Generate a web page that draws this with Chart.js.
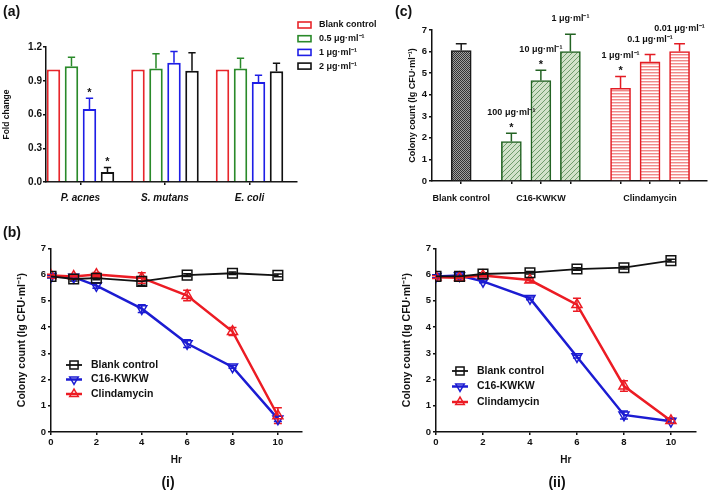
<!DOCTYPE html>
<html>
<head>
<meta charset="utf-8">
<script src="https://cdn.jsdelivr.net/npm/chart.js@4.4.1/dist/chart.umd.min.js"></script>
<style>
  body { margin: 0; background: #fff; width: 709px; height: 492px; position: relative; overflow: hidden; }
  canvas { position: absolute; }
</style>
</head>
<body>
<canvas id="foldChart" width="390" height="245" style="left:0;top:0"></canvas>
<canvas id="colonyChart" width="319" height="245" style="left:390px;top:0"></canvas>
<canvas id="killChart1" width="355" height="252" style="left:0;top:240px"></canvas>
<canvas id="killChart2" width="324" height="252" style="left:385px;top:240px"></canvas>
<script>
const FONT = '"Liberation Sans", Arial, sans-serif';
Chart.defaults.font.family = FONT;
Chart.defaults.font.weight = 'bold';
Chart.defaults.color = '#111';

// (a) fold change
const bacteria = ['P. acnes', 'S. mutans', 'E. coli'];
const doses = ['Blank control', '0.5 μg·ml⁻¹', '1 μg·ml⁻¹', '2 μg·ml⁻¹'];
const foldBlank = [1.0, 1.0, 1.0];
const fold05 = [1.03, 1.01, 1.01];
const fold05Err = [0.08, 0.13, 0.09];
const fold1 = [0.65, 1.06, 0.89];
const fold1Err = [0.095, 0.10, 0.06];
const fold2 = [0.09, 0.99, 0.985];
const fold2Err = [0.04, 0.16, 0.07];
const fold1Star = [true, false, false];
const fold2Star = [true, false, false];
const foldTicks = [0, 0.3, 0.6, 0.9, 1.2];

// (c) colony count
const colonyGroups = ['Blank control', 'C16-KWKW', 'Clindamycin'];
const colonyGroupOf = [0, 1, 1, 1, 2, 2, 2];
const colonyNotes = ['', '100 μg·ml⁻¹', '10 μg·ml⁻¹', '1 μg·ml⁻¹', '1 μg·ml⁻¹', '0.1 μg·ml⁻¹', '0.01 μg·ml⁻¹'];
const colonyValues = [6.05, 1.83, 4.66, 6.0, 4.3, 5.53, 6.0];
const colonyErrors = [0.31, 0.38, 0.47, 0.8, 0.55, 0.33, 0.36];
const colonyStars = [false, true, true, false, true, false, false];
const colonyTicks = [0, 1, 2, 3, 4, 5, 6, 7];

// (b) time-kill curves
const hours = [0, 1, 2, 4, 6, 8, 10];
const hourTicks = [0, 2, 4, 6, 8, 10];
const series = ['Blank control', 'C16-KWKW', 'Clindamycin'];
const blank1 = [5.93, 5.83, 5.86, 5.74, 5.98, 6.05, 5.97];
const blank1Err = [0.05, 0.08, 0.06, 0.15, 0.05, 0.05, 0.05];
const c16_1 = [5.93, 5.9, 5.58, 4.7, 3.37, 2.48, 0.5];
const c16_1Err = [0.05, 0.05, 0.1, 0.15, 0.15, 0.05, 0.1];
const clin1 = [5.96, 5.93, 6.0, 5.87, 5.2, 3.83, 0.62];
const clin1Err = [0.05, 0.05, 0.08, 0.2, 0.2, 0.15, 0.3];
const blank2 = [5.93, 5.93, 6.02, 6.07, 6.21, 6.26, 6.53];
const blank2Err = [0.05, 0.05, 0.05, 0.05, 0.05, 0.05, 0.05];
const c16_2 = [5.93, 5.96, 5.74, 5.09, 2.87, 0.65, 0.41];
const c16_2Err = [0.05, 0.05, 0.05, 0.05, 0.05, 0.15, 0.08];
const clin2 = [5.9, 5.88, 5.96, 5.79, 4.85, 1.75, 0.43];
const clin2Err = [0.05, 0.05, 0.05, 0.08, 0.25, 0.2, 0.1];

// ---- plugins ----
const errorBars = {
  id: 'errorBars',
  beforeDatasetsDraw(chart) {
    const ctx = chart.ctx, y = chart.scales.y;
    chart.data.datasets.forEach((ds, i) => {
      if (!ds.errors) return;
      const meta = chart.getDatasetMeta(i);
      ctx.save();
      ctx.lineWidth = 1.5;
      meta.data.forEach((el, j) => {
        const err = ds.errors[j];
        if (!err) return;
        const v = ds.data[j].y;
        const col = Array.isArray(ds.borderColor) ? ds.borderColor[j] : ds.borderColor;
        const cap = ds.errorBoth ? 4 : el.width * 0.27;
        const top = y.getPixelForValue(v + err);
        const bot = ds.errorBoth ? y.getPixelForValue(v - err) : el.y;
        ctx.strokeStyle = col;
        ctx.beginPath();
        ctx.moveTo(el.x, bot); ctx.lineTo(el.x, top);
        ctx.moveTo(el.x - cap, top); ctx.lineTo(el.x + cap, top);
        if (ds.errorBoth) { ctx.moveTo(el.x - cap, bot); ctx.lineTo(el.x + cap, bot); }
        ctx.stroke();
      });
      ctx.restore();
    });
  }
};

const barMarks = {
  id: 'barMarks',
  afterDatasetsDraw(chart) {
    const ctx = chart.ctx, y = chart.scales.y;
    chart.data.datasets.forEach((ds, i) => {
      const meta = chart.getDatasetMeta(i);
      meta.data.forEach((el, j) => {
        const top = y.getPixelForValue(ds.data[j].y + (ds.errors ? ds.errors[j] : 0));
        const star = ds.stars && ds.stars[j];
        ctx.save();
        ctx.fillStyle = '#111';
        ctx.textAlign = 'center';
        ctx.textBaseline = 'alphabetic';
        if (star) {
          ctx.font = `bold 11px ${FONT}`;
          ctx.fillText('*', el.x, top - 2.5);
        }
        if (ds.notes && ds.notes[j]) {
          ctx.font = `bold 9px ${FONT}`;
          ctx.fillText(ds.notes[j], el.x, top - (star ? 18 : 13));
        }
        ctx.restore();
      });
    });
  }
};

const panelText = {
  id: 'panelText',
  afterDraw(chart, args, opts) {
    const ctx = chart.ctx;
    (opts.items || []).forEach(t => {
      ctx.save();
      ctx.font = `bold 14px ${FONT}`;
      ctx.fillStyle = '#111';
      ctx.textAlign = t.align || 'left';
      ctx.textBaseline = 'middle';
      ctx.fillText(t.text, t.x, t.y);
      ctx.restore();
    });
  }
};

const boxLegend = {
  id: 'boxLegend',
  afterDraw(chart, args, opts) {
    const ctx = chart.ctx;
    chart.data.datasets.forEach((ds, i) => {
      const y = opts.y + i * opts.dy;
      ctx.save();
      ctx.strokeStyle = ds.borderColor;
      ctx.lineWidth = 1.6;
      ctx.strokeRect(opts.x, y - 3, 13, 6);
      ctx.fillStyle = '#111';
      ctx.font = `bold 9px ${FONT}`;
      ctx.textBaseline = 'middle';
      ctx.fillText(ds.label, opts.x + 21, y);
      ctx.restore();
    });
  }
};

function drawMarker(ctx, style, rot, x, y, r) {
  ctx.beginPath();
  if (style === 'rect') {
    const s = r * Math.SQRT1_2;
    ctx.rect(x - s, y - s, 2 * s, 2 * s);
  } else {
    const d = rot ? -1 : 1;
    ctx.moveTo(x, y - d * r);
    ctx.lineTo(x - r * 0.866, y + d * r * 0.5);
    ctx.lineTo(x + r * 0.866, y + d * r * 0.5);
    ctx.closePath();
  }
  ctx.stroke();
}

const lineLegend = {
  id: 'lineLegend',
  afterDraw(chart, args, opts) {
    const ctx = chart.ctx;
    chart.data.datasets.forEach((ds, i) => {
      const y = opts.y + i * opts.dy, mx = opts.x - 17;
      ctx.save();
      ctx.strokeStyle = ds.borderColor;
      ctx.lineWidth = ds.borderWidth;
      ctx.beginPath(); ctx.moveTo(mx - 8, y); ctx.lineTo(mx + 8, y); ctx.stroke();
      ctx.lineWidth = 1.5;
      drawMarker(ctx, ds.pointStyle, ds.pointRotation, mx, y, ds.pointRadius * 0.85);
      ctx.fillStyle = '#111';
      ctx.font = `bold 10.5px ${FONT}`;
      ctx.textBaseline = 'middle';
      ctx.fillText(ds.label, opts.x, y);
      ctx.restore();
    });
  }
};

function pinArea(chart, top, right) {
  const pad = chart.config.options.layout.padding;
  for (let k = 0; k < 2; k++) {
    pad.top += top - chart.chartArea.top;
    pad.right += chart.chartArea.right - right;
    chart.update('none');
  }
}

function makePattern(w, h, draw) {
  const c = document.createElement('canvas');
  c.width = w; c.height = h;
  const g = c.getContext('2d');
  draw(g, w, h);
  return g.createPattern(c, 'repeat');
}

const axisStyle = {
  grid: { drawOnChartArea: false, color: '#111', tickLength: 3, lineWidth: 1.5, offset: false },
  border: { color: '#111', width: 1.5 }
};

// ---- (a) ----
function foldSet(label, values, errs, stars, color) {
  return {
    label,
    data: values.map((v, i) => ({ x: i + 1, y: v })),
    errors: errs,
    stars,
    borderColor: color,
    backgroundColor: '#fff',
    borderWidth: 2,
    categoryPercentage: 0.852,
    barPercentage: 0.75
  };
}

const foldChart = new Chart(document.getElementById('foldChart'), {
  type: 'bar',
  data: {
    datasets: [
      foldSet(doses[0], foldBlank, null, null, '#e8262b'),
      foldSet(doses[1], fold05, fold05Err, null, '#2a8a2a'),
      foldSet(doses[2], fold1, fold1Err, fold1Star, '#1e1ee6'),
      foldSet(doses[3], fold2, fold2Err, fold2Star, '#111')
    ]
  },
  options: {
    responsive: false, devicePixelRatio: 1, animation: false,
    layout: { padding: { top: 0, right: 0, left: 0, bottom: 0 } },
    plugins: {
      legend: { display: false }, tooltip: { enabled: false },
      boxLegend: { x: 298, y: 25, dy: 13.7 },
      panelText: { items: [{ text: '(a)', x: 3, y: 12 }, { text: '(b)', x: 3, y: 233 }] }
    },
    scales: {
      x: {
        type: 'linear', min: 0.592, max: 3.562, offset: false,
        afterBuildTicks: s => { s.ticks = bacteria.map((b, i) => ({ value: i + 1 })); },
        afterFit: s => { s.height = 245 - 182; },
        ticks: { callback: (v, i) => bacteria[i], font: { size: 10, style: 'italic' }, padding: 7, maxRotation: 0, autoSkip: false },
        ...axisStyle
      },
      y: {
        min: 0, max: 1.2,
        afterBuildTicks: s => { s.ticks = foldTicks.map(v => ({ value: v })); },
        afterFit: s => { s.width = 46; },
        ticks: { callback: v => v.toFixed(1), font: { size: 10 }, padding: 1 },
        title: { display: true, text: 'Fold change', font: { size: 8.5 }, padding: { top: 2, bottom: 0 } },
        ...axisStyle
      }
    }
  },
  plugins: [errorBars, barMarks, boxLegend, panelText]
});
pinArea(foldChart, 47, 297);

// ---- (c) ----
const checkFill = makePattern(2, 2, g => {
  g.fillStyle = '#a0a0a0'; g.fillRect(0, 0, 2, 2);
  g.fillStyle = '#333333'; g.fillRect(0, 0, 1, 1); g.fillRect(1, 1, 1, 1);
});
const hatchFill = makePattern(5, 5, g => {
  g.fillStyle = '#d2e2ca'; g.fillRect(0, 0, 5, 5);
  g.strokeStyle = '#6f9c6c'; g.lineWidth = 1;
  g.beginPath();
  g.moveTo(0, 5); g.lineTo(5, 0);
  g.moveTo(-1, 1); g.lineTo(1, -1);
  g.moveTo(4, 6); g.lineTo(6, 4);
  g.stroke();
});
const stripeFill = makePattern(4, 3, g => {
  g.fillStyle = '#ffffff'; g.fillRect(0, 0, 4, 3);
  g.fillStyle = '#f08a8a'; g.fillRect(0, 0, 4, 1);
  g.fillStyle = '#fbcaca'; g.fillRect(0, 1, 4, 1);
});
const groupFills = [checkFill, hatchFill, stripeFill];
const groupEdges = ['#1a1a1a', '#236323', '#e31b23'];

const colonyX = colonyValues.map((v, i) => i + 0.7 * colonyGroupOf[i]);
const groupMiddle = colonyGroups.map((g, gi) => {
  const idx = colonyGroupOf.map((x, i) => x === gi ? i : -1).filter(i => i >= 0);
  return idx[Math.floor(idx.length / 2)];
});

const colonyChart = new Chart(document.getElementById('colonyChart'), {
  type: 'bar',
  data: {
    datasets: [{
      label: 'Colony count',
      data: colonyValues.map((v, i) => ({ x: colonyX[i], y: v })),
      errors: colonyErrors,
      stars: colonyStars,
      notes: colonyNotes,
      backgroundColor: colonyGroupOf.map(g => groupFills[g]),
      borderColor: colonyGroupOf.map(g => groupEdges[g]),
      borderWidth: 1.6,
      barThickness: 20
    }]
  },
  options: {
    responsive: false, devicePixelRatio: 1, animation: false,
    layout: { padding: { top: 0, right: 0, left: 0, bottom: 0 } },
    plugins: {
      legend: { display: false }, tooltip: { enabled: false },
      panelText: { items: [{ text: '(c)', x: 5, y: 12 }] }
    },
    scales: {
      x: {
        type: 'linear', min: -0.99, max: 8.33, offset: false,
        afterBuildTicks: s => { s.ticks = colonyX.map(v => ({ value: v })); },
        afterFit: s => { s.height = 245 - 181; },
        ticks: {
          callback: (v, i) => { const g = groupMiddle.indexOf(i); return g >= 0 ? colonyGroups[g] : ''; },
          font: { size: 9 }, padding: 9, maxRotation: 0, autoSkip: false
        },
        ...axisStyle
      },
      y: {
        min: 0, max: 7,
        afterBuildTicks: s => { s.ticks = colonyTicks.map(v => ({ value: v })); },
        afterFit: s => { s.width = 42; },
        ticks: { font: { size: 9.5 }, padding: 2 },
        title: { display: true, text: 'Colony count (lg CFU·ml⁻¹)', font: { size: 9 }, padding: { top: 17.5, bottom: 0 } },
        ...axisStyle
      }
    }
  },
  plugins: [errorBars, barMarks, panelText]
});
pinArea(colonyChart, 30, 317);

// ---- (b) ----
function killSet(label, vals, errs, color, style, rot, width, order) {
  return {
    label,
    data: hours.map((h, i) => ({ x: h, y: vals[i] })),
    errors: errs,
    errorBoth: true,
    borderColor: color,
    borderWidth: width,
    pointStyle: style,
    pointRotation: rot,
    pointRadius: style === 'rect' ? 6.8 : 5.8,
    pointBorderWidth: 1.5,
    pointBorderColor: color,
    pointBackgroundColor: 'rgba(255,255,255,0)',
    order,
    tension: 0
  };
}

function killChart(id, blank, blankErr, c16, c16Err, clin, clinErr, legend, tag, tagX, right) {
  const chart = new Chart(document.getElementById(id), {
    type: 'line',
    data: {
      datasets: [
        killSet(series[0], blank, blankErr, '#111', 'rect', 0, 1.8, 0),
        killSet(series[1], c16, c16Err, '#1c1cd2', 'triangle', 180, 2.5, 2),
        killSet(series[2], clin, clinErr, '#ec1c24', 'triangle', 0, 2.5, 1)
      ]
    },
    options: {
      responsive: false, devicePixelRatio: 1, animation: false,
      layout: { padding: { top: 0, right: 0, left: 0, bottom: 0 } },
      plugins: {
        legend: { display: false }, tooltip: { enabled: false },
        lineLegend: legend,
        panelText: { items: [{ text: tag, x: tagX, y: 243, align: 'center' }] }
      },
      scales: {
        x: {
          type: 'linear', min: 0, max: 11.05, offset: false,
          afterBuildTicks: s => { s.ticks = hourTicks.map(v => ({ value: v })); },
          afterFit: s => { s.height = 60; },
          ticks: { font: { size: 9.5 }, padding: 2, maxRotation: 0, autoSkip: false },
          title: { display: true, text: 'Hr', font: { size: 10 }, padding: { top: 0, bottom: 26 } },
          ...axisStyle
        },
        y: {
          min: 0, max: 7,
          afterBuildTicks: s => { s.ticks = colonyTicks.map(v => ({ value: v })); },
          afterFit: s => { s.width = 51; },
          ticks: { font: { size: 9.5 }, padding: 2 },
          title: { display: true, text: 'Colony count (lg CFU·ml⁻¹)', font: { size: 10.5 }, padding: { top: 15.7, bottom: 0 } },
          ...axisStyle
        }
      }
    },
    plugins: [errorBars, lineLegend, panelText]
  });
  pinArea(chart, 9, right);
  return chart;
}

killChart('killChart1', blank1, blank1Err, c16_1, c16_1Err, clin1, clin1Err,
  { x: 91, y: 125, dy: 14.5 }, '(i)', 168, 301.7);
killChart('killChart2', blank2, blank2Err, c16_2, c16_2Err, clin2, clin2Err,
  { x: 92, y: 131, dy: 15.5 }, '(ii)', 172, 309);
</script>
</body>
</html>
